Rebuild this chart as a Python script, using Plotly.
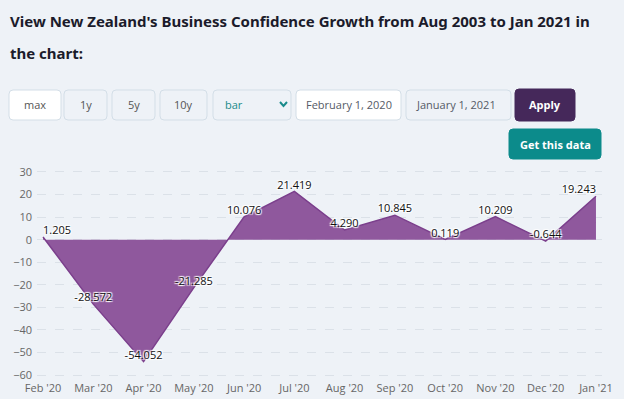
import plotly.graph_objects as go

# ---- data ----
months = ["Feb '20", "Mar '20", "Apr '20", "May '20", "Jun '20", "Jul '20",
          "Aug '20", "Sep '20", "Oct '20", "Nov '20", "Dec '20", "Jan '21"]
values = [1.205, -28.572, -54.052, -21.285, 10.076, 21.419,
          4.290, 10.845, 0.119, 10.209, -0.644, 19.243]
y_ticks = [30, 20, 10, 0, -10, -20, -30, -40, -50, -60]

title_lines = ["View New Zealand's Business Confidence Growth from Aug 2003 to Jan 2021 in",
               "the chart:"]
range_buttons = ["max", "1y", "5y", "10y"]
chart_type = "bar"
start_date = "February 1, 2020"
end_date = "January 1, 2021"

W, H = 624, 399
BG = "#eef2f7"

def px(x):
    return x / W

def py(y):
    return 1 - y / H

def rounded(x0, y0, x1, y1, r=4):
    X0, X1 = px(x0), px(x1)
    Y0, Y1 = py(y0), py(y1)
    rx, ry = r / W, r / H
    return (f"M{X0+rx},{Y0} L{X1-rx},{Y0} Q{X1},{Y0} {X1},{Y0-ry} "
            f"L{X1},{Y1+ry} Q{X1},{Y1} {X1-rx},{Y1} L{X0+rx},{Y1} "
            f"Q{X0},{Y1} {X0},{Y1+ry} L{X0},{Y0-ry} Q{X0},{Y0} {X0+rx},{Y0} Z")

label_pos = ["top center"] * len(values)
label_pos[0] = "top right"
label_pos[-1] = "top left"

fig = go.Figure()
fig.add_trace(go.Scatter(
    x=months, y=values, mode="lines+text", fill="tozeroy",
    line=dict(color="#7b3f8c", width=1.5),
    fillcolor="#8f589d",
    text=[f"{v:.3f}" for v in values], textposition=label_pos,
    textfont=dict(family="Open Sans", size=11, color="#111111",
                  shadow="1px 1px 1px #ffffff, -1px -1px 1px #ffffff, 1px -1px 1px #ffffff, -1px 1px 1px #ffffff"),
    cliponaxis=False,
    hoverinfo="x+y", showlegend=False,
))

shapes = []
annotations = []

def note(x, y, text, size=11, color="#555555", anchor="center", family="Open Sans"):
    annotations.append(dict(x=px(x), y=py(y), xref="paper", yref="paper",
                            xanchor=anchor, yanchor="middle", showarrow=False, text=text,
                            font=dict(family=family, size=size, color=color)))

# title
for i, line in enumerate(title_lines):
    note(8, 21 + i * 32, f"<b>{line}</b>", size=15, color="#1b1b2b", anchor="left",
         family="Noto Sans")

# range buttons
btn_x = [(9, 61), (64, 107), (112, 155), (160, 207)]
for (x0, x1), label in zip(btn_x, range_buttons):
    shapes.append(dict(type="path", path=rounded(x0, 90, x1, 120), xref="paper", yref="paper",
                       fillcolor="#ffffff" if label == "max" else BG,
                       line=dict(color="#d3dee7", width=1), layer="above"))
    note((x0 + x1) / 2, 105, label)

# chart type select
shapes.append(dict(type="path", path=rounded(213, 90, 291, 120), xref="paper", yref="paper",
                   fillcolor=BG, line=dict(color="#d3dee7", width=1), layer="above"))
note(223, 105, chart_type, color="#1a8b8b", anchor="left")
shapes.append(dict(type="path",
                   path=f"M{px(280)},{py(102)} L{px(283.5)},{py(106)} L{px(287)},{py(102)}",
                   xref="paper", yref="paper", line=dict(color="#1a8b8b", width=2), layer="above"))

# date inputs
for (x0, x1), txt, fill in [((296, 401), start_date, "#ffffff"), ((406, 511), end_date, BG)]:
    shapes.append(dict(type="path", path=rounded(x0, 90, x1, 120), xref="paper", yref="paper",
                       fillcolor=fill, line=dict(color="#d3dee7", width=1), layer="above"))
    note(x0 + 8, 105, txt, color="#555a66", anchor="left")

# Apply button
shapes.append(dict(type="path", path=rounded(515, 89, 575, 121), xref="paper", yref="paper",
                   fillcolor="#45285a", line=dict(color="#45285a", width=1), layer="above"))
note(545, 105, "<b>Apply</b>", color="#ffffff")

# Get this data button
shapes.append(dict(type="path", path=rounded(509, 129, 601, 159), xref="paper", yref="paper",
                   fillcolor="#0c8b8b", line=dict(color="#0c8b8b", width=1), layer="above"))
note(555, 144, "<b>Get this data</b>", color="#ffffff")

fig.update_layout(
    width=W, height=H,
    margin=dict(l=0, r=0, t=0, b=0),
    paper_bgcolor=BG, plot_bgcolor=BG,
    shapes=shapes, annotations=annotations,
    xaxis=dict(domain=[px(37), px(602)], type="category", range=[-0.12, 11.12],
               showgrid=False, zeroline=False, showline=False, ticks="",
               tickfont=dict(family="Open Sans", size=11, color="#666666"),
               ticklabelstandoff=3, automargin=False, fixedrange=True),
    yaxis=dict(domain=[py(377.3), py(169.7)], range=[-61, 31], tickvals=y_ticks,
               showgrid=True, gridcolor="#dbe1e8", griddash="dash", gridwidth=1,
               zeroline=False, showline=False, ticks="",
               tickfont=dict(family="Open Sans", size=11, color="#666666"),
               ticklabelstandoff=4, automargin=False, fixedrange=True),
)

fig.write_html("out.html", config={"displayModeBar": False},
               post_script="document.body.style.margin='0';document.body.style.overflow='hidden';")
